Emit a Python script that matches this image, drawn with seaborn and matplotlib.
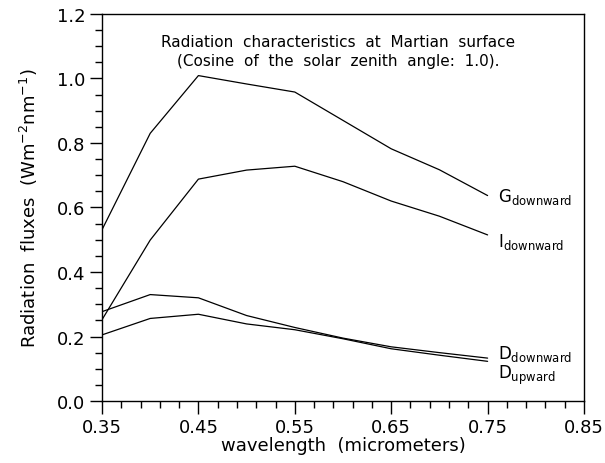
import numpy as np
import pandas as pd
import matplotlib
matplotlib.use("Agg")
import matplotlib.pyplot as plt
import seaborn as sns
from matplotlib.ticker import MultipleLocator, FormatStrFormatter

sns.set_theme(style="ticks")
plt.rcParams["font.family"] = ["DejaVu Sans"]
plt.rcParams["mathtext.fontset"] = "dejavusans"
plt.rcParams["text.color"] = "black"
plt.rcParams["axes.labelcolor"] = "black"

# valores
wavelength = [0.35, 0.40, 0.45, 0.50, 0.55, 0.60, 0.65, 0.70, 0.75]
g_down = [0.531, 0.830, 1.009, 0.983, 0.958, 0.870, 0.782, 0.717, 0.637]
i_down = [0.252, 0.499, 0.688, 0.716, 0.728, 0.680, 0.620, 0.573, 0.515]
d_down = [0.277, 0.330, 0.320, 0.265, 0.228, 0.195, 0.168, 0.150, 0.133]
d_up = [0.205, 0.256, 0.269, 0.239, 0.221, 0.193, 0.162, 0.142, 0.123]

series_names = ["G", "I", "Dd", "Du"]
series_labels = [r"G$_{\mathrm{downward}}$", r"I$_{\mathrm{downward}}$",
                 r"D$_{\mathrm{downward}}$", r"D$_{\mathrm{upward}}$"]
label_y = [0.635, 0.495, 0.148, 0.082]

df = pd.DataFrame({
    "wavelength": wavelength * 4,
    "flux": g_down + i_down + d_down + d_up,
    "serie": np.repeat(series_names, len(wavelength)),
})

fig = plt.figure(figsize=(6.05, 4.64), dpi=100)
ax = fig.add_axes([0.1686, 0.1336, 0.7967, 0.8341])

sns.lineplot(data=df, x="wavelength", y="flux", hue="serie",
             palette=["black"] * 4, linewidth=0.9, legend=False, ax=ax,
             estimator=None, sort=False)

ax.set_xlim(0.35, 0.85)
ax.set_ylim(0.0, 1.2)
ax.set_xticks(np.arange(0.35, 0.851, 0.1))
ax.xaxis.set_minor_locator(MultipleLocator(0.02, offset=0.01))
ax.xaxis.set_major_formatter(FormatStrFormatter("%.2f"))
ax.yaxis.set_major_locator(MultipleLocator(0.2))
ax.yaxis.set_minor_locator(MultipleLocator(0.05))
ax.yaxis.set_major_formatter(FormatStrFormatter("%.1f"))
ax.tick_params(which="major", length=9, width=1, labelsize=13, color="black",
               labelcolor="black", pad=3)
ax.tick_params(which="minor", length=5, width=1, color="black")
for s in ax.spines.values():
    s.set_color("black")
    s.set_linewidth(1)

ax.set_xlabel("wavelength  (micrometers)", fontsize=13, labelpad=0)
ax.set_ylabel(r"Radiation  fluxes  (Wm$^{-2}$nm$^{-1}$)", fontsize=13, labelpad=12)

ax.text(0.595, 1.115, "Radiation  characteristics  at  Martian  surface",
        ha="center", va="center", fontsize=11)
ax.text(0.595, 1.055, "(Cosine  of  the  solar  zenith  angle:  1.0).",
        ha="center", va="center", fontsize=11)

for lab, yy in zip(series_labels, label_y):
    ax.text(0.761, yy, lab, ha="left", va="center", fontsize=12)

fig.savefig("out.png", dpi=100)
